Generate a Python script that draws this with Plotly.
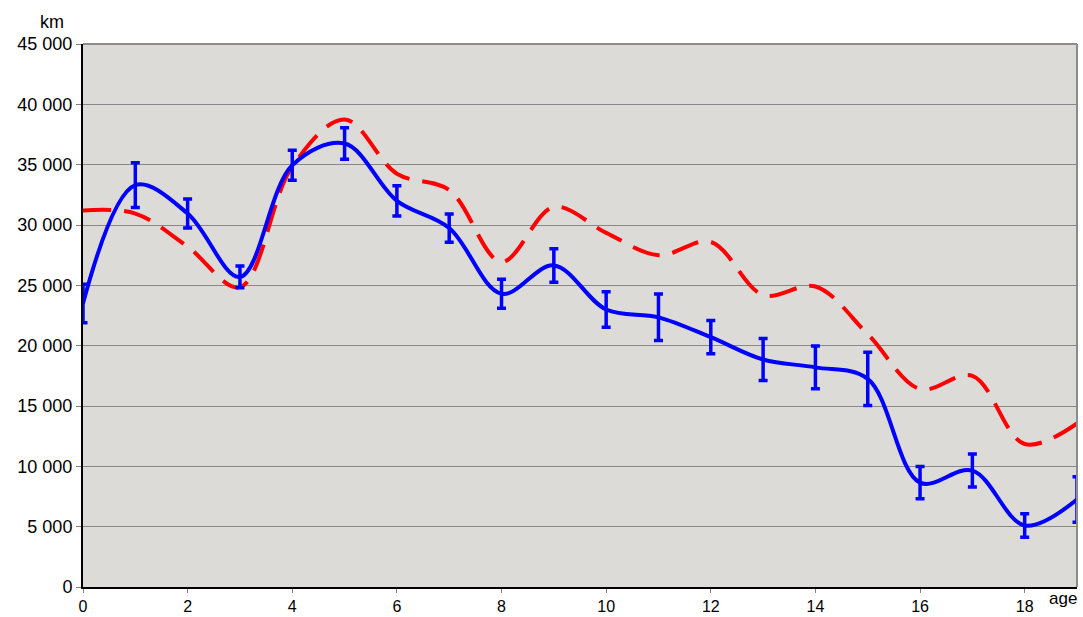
import plotly.graph_objects as go

ages = list(range(20))
blue_km = [23500, 33300, 30950, 25700, 34950, 36750, 32000, 29750, 24300, 26650,
           23000, 22350, 20700, 18850, 18200, 17250, 8650, 9650, 5100, 7250]
blue_err = [1600, 1850, 1200, 900, 1250, 1300, 1250, 1170, 1200, 1390,
            1470, 1930, 1380, 1740, 1780, 2200, 1340, 1370, 970, 1890]
red_km = [31200, 30950, 28200, 24850, 34850, 38750, 34250, 32900, 26950, 31500,
          29350, 27500, 28600, 24200, 24900, 20950, 16400, 17500, 11850, 13550]

y_ticks = list(range(0, 45001, 5000))
y_ticktext = ["{:,}".format(v).replace(",", " ") for v in y_ticks]
x_ticks = list(range(0, 19, 2))

fig = go.Figure()
fig.add_trace(go.Scatter(
    x=ages, y=red_km, mode="lines",
    line=dict(color="#FF0000", width=4, dash="28px,13px", shape="spline", smoothing=1.0),
    showlegend=False, hoverinfo="skip"))
fig.add_trace(go.Scatter(
    x=ages, y=blue_km, mode="lines",
    line=dict(color="#0000FF", width=4, shape="spline", smoothing=1.0),
    error_y=dict(type="data", array=blue_err, visible=True, color="#0000FF",
                 thickness=3.5, width=4.5),
    showlegend=False, hoverinfo="skip"))

fig.update_layout(
    width=1083, height=617,
    margin=dict(l=83, r=6, t=44, b=30, autoexpand=False),
    paper_bgcolor="white", plot_bgcolor="#DCDBD7",
    font=dict(family="Liberation Sans, Arial, sans-serif", size=18, color="black"),
    xaxis=dict(range=[0, 19], tickvals=x_ticks, showgrid=False, zeroline=False,
               showline=True, linecolor="black", linewidth=2, automargin=False,
               ticks="outside", ticklen=4, tickcolor="#808080", tickwidth=1,
               tickfont=dict(size=16)),
    yaxis=dict(range=[0, 45000], tickvals=y_ticks, ticktext=y_ticktext,
               showgrid=True, gridcolor="#888888", gridwidth=1, zeroline=False,
               showline=True, linecolor="black", linewidth=2, automargin=False,
               ticks="outside", ticklen=5, tickcolor="#808080", tickwidth=1),
    shapes=[
        dict(type="line", xref="paper", yref="paper", x0=1, x1=1, y0=0, y1=1,
             line=dict(color="#8C8C8C", width=2)),
        dict(type="line", xref="paper", yref="paper", x0=0, x1=1, y0=1, y1=1,
             line=dict(color="#8C8C8C", width=2)),
    ],
    annotations=[
        dict(text="km", xref="paper", yref="paper", x=0, y=1,
             xanchor="center", yanchor="bottom", xshift=-31, yshift=10,
             showarrow=False, font=dict(size=18)),
        dict(text="age", xref="paper", yref="paper", x=1, y=0,
             xanchor="center", yanchor="top", xshift=-14, yshift=0,
             showarrow=False, font=dict(size=17)),
    ],
)

fig.write_html("out.html", config={"displayModeBar": False},
               post_script="document.body.style.margin='0px';document.body.style.overflow='hidden';")
